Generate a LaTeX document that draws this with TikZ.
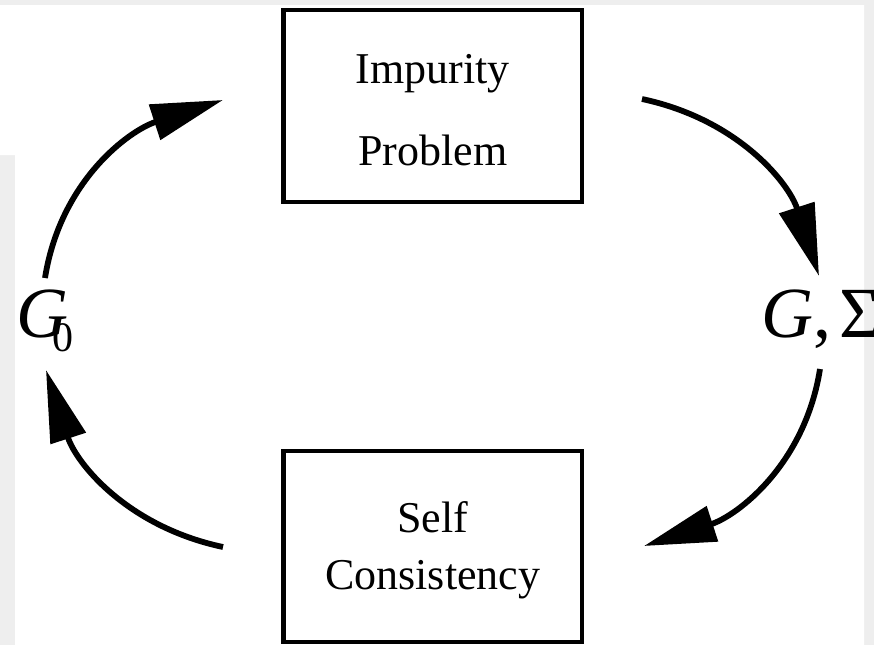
\documentclass[tikz,border=0pt]{standalone}
\usepackage{fontspec}
\setmainfont{Liberation Serif}
\usetikzlibrary{arrows.meta}
\definecolor{bggray}{RGB}{238,238,238}
\tikzset{
  boxnode/.style={draw=black, line width=4.5pt, rectangle, inner sep=0pt,
    minimum width=298.5pt, align=center},
  cycarrow/.style={line width=5.8pt, -{Triangle[length=72pt,width=36pt]}},
  lbl/.style={inner sep=0pt, anchor=base west, font=\fontsize{72}{72}\selectfont}
}
\begin{document}
\begin{tikzpicture}[x=1pt,y=1pt]
  \useasboundingbox (0,0) rectangle (874,-645);
  % screenshot background
  \fill[bggray] (0,0) rectangle (874,-645);
  \fill[white] (0,-5) -- (864,-5) -- (864,-645) -- (15,-645) -- (15,-155) -- (0,-155) -- cycle;

  % boxes
  \node[boxnode, minimum height=192pt, font=\fontsize{44}{82}\selectfont]
    (imp) at (432.75,-106) {\rule{0pt}{36.5pt}Impurity\\Problem};
  \node[boxnode, minimum height=191pt, font=\fontsize{44}{57}\selectfont]
    (self) at (432.75,-546.5) {\rule{0pt}{37.5pt}Self\\Consistency};

  % labels
  \node[lbl] (g0) at (16,-337) {\textit{G}\kern-16pt\raisebox{-14pt}{\fontsize{42}{42}\selectfont 0}};
  \node[lbl] (gs) at (761,-337) {\textit{G},\kern8pt Σ};

  % arrow end points
  \coordinate (a1s) at (45,-278);
  \coordinate (a1e) at (223,-100);
  \coordinate (a2s) at (642,-99);
  \coordinate (a2e) at (819,-276);
  \coordinate (a3s) at (820,-369);
  \coordinate (a3e) at (644,-546);
  \coordinate (a4s) at (223,-547);
  \coordinate (a4e) at (46,-370);

  \draw[cycarrow] (a1s) to[out=81,in=198] (a1e);
  \draw[cycarrow] (a2s) to[out=-12,in=108] (a2e);
  \draw[cycarrow] (a3s) to[out=-99,in=18] (a3e);
  \draw[cycarrow] (a4s) to[out=168,in=-72] (a4e);
\end{tikzpicture}
\end{document}
